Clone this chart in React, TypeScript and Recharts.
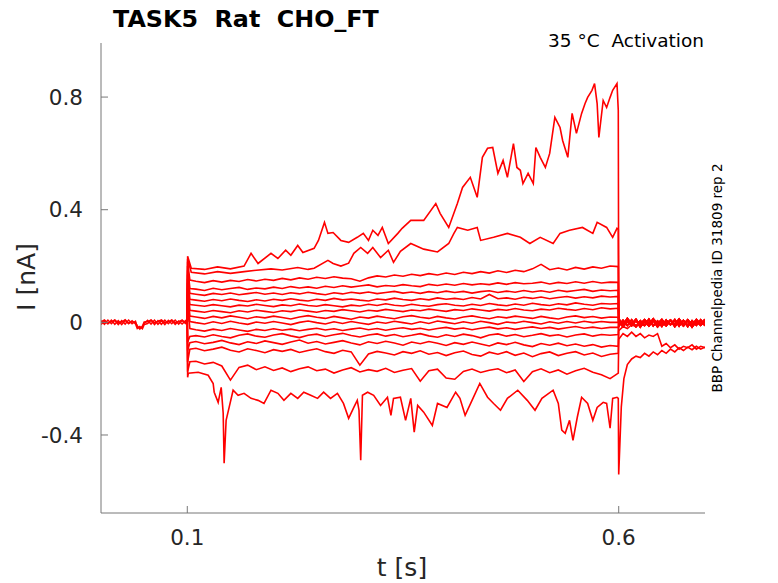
import React from "react";
import { LineChart, Line, XAxis, YAxis } from "recharts";

// time grids (s)
const tPre = [0, 0.004, 0.008, 0.012, 0.016, 0.02, 0.024, 0.028, 0.032, 0.036, 0.04, 0.042, 0.045, 0.048, 0.05, 0.054, 0.058, 0.062, 0.066, 0.07, 0.074, 0.078, 0.082, 0.086, 0.09, 0.094, 0.098, 0.1];
const tStep = [0.1, 0.1004, 0.103, 0.11, 0.12, 0.13, 0.14, 0.15, 0.16, 0.17, 0.18, 0.19, 0.2, 0.21, 0.22, 0.23, 0.24, 0.25, 0.26, 0.27, 0.28, 0.29, 0.3, 0.31, 0.32, 0.33, 0.34, 0.35, 0.36, 0.37, 0.38, 0.39, 0.4, 0.41, 0.42, 0.43, 0.44, 0.45, 0.46, 0.47, 0.48, 0.49, 0.5, 0.51, 0.52, 0.53, 0.54, 0.55, 0.56, 0.57, 0.58, 0.59, 0.5995];
const tPost = [0.6, 0.605, 0.61, 0.615, 0.62, 0.625, 0.63, 0.635, 0.64, 0.645, 0.65, 0.655, 0.66, 0.665, 0.67, 0.675, 0.68, 0.685, 0.69, 0.695, 0.7];
const tTail = [0.6, 0.6015, 0.603, 0.606, 0.61, 0.615, 0.62, 0.625, 0.63, 0.635, 0.64, 0.645, 0.65, 0.655, 0.66, 0.665, 0.67, 0.675, 0.68, 0.685, 0.69, 0.695, 0.7];

// holding current before the step (nA)
const preA = [0.006, -0.007, 0.008, -0.005, 0.007, -0.008, 0.006, -0.006, 0.008, -0.005, 0.004, -0.016, -0.021, -0.017, -0.004, 0.007, -0.006, 0.008, -0.007, 0.006, -0.008, 0.007, -0.005, 0.008, -0.006, 0.007, -0.004, 0];
const preB = [-0.008, 0.005, -0.006, 0.008, -0.007, 0.006, -0.008, 0.007, -0.005, 0.006, -0.006, -0.022, -0.015, -0.023, -0.008, -0.004, 0.007, -0.008, 0.006, -0.007, 0.008, -0.005, 0.007, -0.007, 0.005, -0.006, 0.006, 0];
const preC = [0.002, 0.009, -0.003, 0.002, 0.009, -0.002, 0.001, 0.009, -0.003, 0.002, -0.001, -0.012, -0.024, -0.013, 0.001, 0.002, 0.009, -0.002, 0.003, 0.009, -0.001, 0.002, 0.009, -0.002, 0.002, 0.008, -0.002, 0];

// after the step
const postA = [0.012, -0.008, 0.014, -0.006, 0.011, -0.01, 0.009, -0.008, 0.013, -0.005, 0.01, -0.009, 0.008, -0.007, 0.012, -0.008, 0.009, -0.01, 0.01, -0.006, 0.011];
const postB = [-0.014, 0.007, -0.011, 0.009, -0.015, 0.006, -0.01, 0.011, -0.013, 0.005, -0.014, 0.008, -0.009, 0.01, -0.013, 0.007, -0.015, 0.006, -0.01, 0.009, -0.012];
const postC = [0.005, -0.016, 0.004, -0.012, 0.007, -0.017, 0.003, -0.013, 0.006, -0.016, 0.002, -0.012, 0.007, -0.015, 0.004, -0.013, 0.006, -0.017, 0.003, -0.011, 0.004];
const tail14 = [-0.03, -0.015, -0.022, -0.008, -0.016, -0.004, -0.012, 0.002, -0.009, 0.004, -0.006, 0.003, -0.008, 0.005, -0.004, 0.006, -0.007, 0.003, -0.005, 0.004, -0.002];
const tail15 = [-0.06, -0.04, -0.05, -0.035, -0.05, -0.04, -0.055, -0.045, -0.05, -0.04, -0.085, -0.075, -0.09, -0.08, -0.095, -0.085, -0.09, -0.08, -0.095, -0.085, -0.09];
const tail16 = [-0.54, -0.42, -0.3, -0.2, -0.15, -0.13, -0.12, -0.125, -0.11, -0.12, -0.105, -0.115, -0.1, -0.11, -0.095, -0.105, -0.09, -0.1, -0.088, -0.097, -0.085, -0.095, -0.088];

// sweep 1 (largest, slowly activating)
const t1 = [0.1, 0.1004, 0.1046, 0.12, 0.135, 0.15, 0.1658, 0.1739, 0.182, 0.197, 0.205, 0.214, 0.22, 0.228, 0.234, 0.247, 0.252, 0.259, 0.263, 0.269, 0.278, 0.287, 0.297, 0.304, 0.31, 0.315, 0.321, 0.326, 0.333, 0.344, 0.349, 0.359, 0.374, 0.388, 0.393, 0.403, 0.413, 0.419, 0.428, 0.436, 0.442, 0.448, 0.454, 0.46, 0.466, 0.471, 0.478, 0.482, 0.486, 0.489, 0.495, 0.501, 0.504, 0.509, 0.515, 0.52, 0.526, 0.532, 0.535, 0.541, 0.546, 0.551, 0.557, 0.561, 0.564, 0.569, 0.572, 0.575, 0.577, 0.582, 0.586, 0.59, 0.593, 0.598, 0.5995];
const i1 = [0, 0.235, 0.192, 0.188, 0.197, 0.19, 0.2, 0.245, 0.209, 0.245, 0.227, 0.256, 0.238, 0.273, 0.248, 0.263, 0.291, 0.355, 0.316, 0.319, 0.291, 0.284, 0.302, 0.316, 0.291, 0.327, 0.309, 0.337, 0.28, 0.316, 0.334, 0.362, 0.362, 0.422, 0.387, 0.337, 0.422, 0.479, 0.515, 0.444, 0.586, 0.618, 0.621, 0.529, 0.575, 0.515, 0.635, 0.55, 0.54, 0.493, 0.529, 0.493, 0.621, 0.586, 0.55, 0.6, 0.728, 0.692, 0.646, 0.586, 0.742, 0.671, 0.742, 0.777, 0.799, 0.824, 0.848, 0.777, 0.657, 0.788, 0.763, 0.799, 0.824, 0.848, 0.753];
const post1 = [0.012, -0.004, 0.009, -0.007, 0.006, -0.003, 0.01, -0.005, 0.007, -0.008, 0.004, -0.002, 0.009, -0.006, 0.005, -0.004, 0.008, -0.007, 0.003, -0.005, 0.006];

// sweep 2
const t2 = [0.1, 0.1004, 0.1046, 0.12, 0.135, 0.15, 0.166, 0.18, 0.197, 0.21, 0.228, 0.24, 0.247, 0.263, 0.269, 0.278, 0.287, 0.293, 0.301, 0.309, 0.315, 0.324, 0.333, 0.339, 0.347, 0.359, 0.374, 0.39, 0.403, 0.409, 0.413, 0.425, 0.436, 0.44, 0.455, 0.471, 0.486, 0.497, 0.509, 0.524, 0.532, 0.543, 0.558, 0.57, 0.575, 0.586, 0.593, 0.598, 0.5995];
const i2 = [0, 0.225, 0.178, 0.172, 0.18, 0.174, 0.18, 0.185, 0.19, 0.186, 0.195, 0.188, 0.192, 0.22, 0.209, 0.2, 0.21, 0.245, 0.266, 0.245, 0.266, 0.23, 0.256, 0.213, 0.252, 0.28, 0.26, 0.25, 0.28, 0.316, 0.337, 0.327, 0.337, 0.291, 0.302, 0.316, 0.302, 0.28, 0.302, 0.28, 0.316, 0.327, 0.337, 0.316, 0.355, 0.337, 0.302, 0.334, 0.33];

// sweeps 3..15 on tStep
const i3 = [0, 0.215, 0.15, 0.146, 0.141, 0.148, 0.143, 0.149, 0.145, 0.152, 0.147, 0.153, 0.149, 0.156, 0.151, 0.158, 0.153, 0.16, 0.156, 0.162, 0.157, 0.155, 0.146, 0.158, 0.165, 0.161, 0.168, 0.164, 0.171, 0.166, 0.173, 0.168, 0.175, 0.17, 0.178, 0.173, 0.18, 0.175, 0.183, 0.177, 0.185, 0.18, 0.19, 0.206, 0.187, 0.193, 0.186, 0.195, 0.189, 0.197, 0.192, 0.2, 0.198];
const i4 = [0, 0.2, 0.12, 0.118, 0.113, 0.121, 0.116, 0.12, 0.124, 0.117, 0.122, 0.119, 0.125, 0.12, 0.127, 0.122, 0.126, 0.121, 0.128, 0.124, 0.13, 0.125, 0.129, 0.133, 0.126, 0.131, 0.128, 0.134, 0.13, 0.127, 0.135, 0.131, 0.136, 0.132, 0.138, 0.133, 0.137, 0.134, 0.14, 0.135, 0.141, 0.137, 0.139, 0.143, 0.136, 0.142, 0.138, 0.144, 0.139, 0.145, 0.14, 0.143, 0.142];
const i5 = [0, 0.185, 0.103, 0.1, 0.096, 0.103, 0.099, 0.104, 0.098, 0.102, 0.106, 0.1, 0.104, 0.099, 0.105, 0.101, 0.107, 0.102, 0.098, 0.105, 0.101, 0.107, 0.103, 0.108, 0.102, 0.106, 0.11, 0.104, 0.108, 0.103, 0.109, 0.105, 0.111, 0.106, 0.11, 0.104, 0.109, 0.112, 0.106, 0.111, 0.107, 0.113, 0.108, 0.112, 0.107, 0.114, 0.109, 0.113, 0.117, 0.11, 0.115, 0.112, 0.114];
const i6 = [0, 0.17, 0.082, 0.079, 0.075, 0.081, 0.077, 0.083, 0.078, 0.074, 0.08, 0.076, 0.082, 0.078, 0.084, 0.079, 0.076, 0.082, 0.078, 0.085, 0.08, 0.083, 0.079, 0.076, 0.083, 0.08, 0.086, 0.081, 0.078, 0.084, 0.08, 0.087, 0.082, 0.085, 0.081, 0.088, 0.083, 0.099, 0.084, 0.087, 0.082, 0.089, 0.085, 0.09, 0.084, 0.088, 0.092, 0.086, 0.091, 0.087, 0.093, 0.09, 0.092];
const i7 = [0, 0.155, 0.063, 0.061, 0.057, 0.063, 0.059, 0.055, 0.061, 0.058, 0.064, 0.06, 0.056, 0.062, 0.059, 0.065, 0.06, 0.057, 0.063, 0.059, 0.055, 0.061, 0.058, 0.064, 0.06, 0.066, 0.061, 0.058, 0.064, 0.06, 0.057, 0.063, 0.066, 0.061, 0.058, 0.064, 0.06, 0.067, 0.062, 0.059, 0.065, 0.061, 0.068, 0.063, 0.06, 0.066, 0.062, 0.069, 0.064, 0.061, 0.067, 0.065, 0.067];
const i8 = [0, 0.14, 0.043, 0.04, 0.036, 0.042, 0.038, 0.034, 0.041, 0.037, 0.043, 0.039, 0.035, 0.041, 0.038, 0.044, 0.04, 0.036, 0.042, 0.039, 0.045, 0.041, 0.037, 0.043, 0.04, 0.046, 0.042, 0.038, 0.044, 0.041, 0.047, 0.043, 0.039, 0.045, 0.042, 0.048, 0.044, 0.04, 0.046, 0.043, 0.049, 0.044, 0.041, 0.047, 0.044, 0.05, 0.046, 0.043, 0.049, 0.045, 0.052, 0.048, 0.05];
const i9 = [0, 0.12, 0.022, 0.019, 0.014, 0.021, 0.016, 0.023, 0.018, 0.013, 0.02, 0.016, 0.022, 0.017, 0.012, 0.019, 0.024, 0.018, 0.014, 0.021, 0.016, 0.011, 0.019, 0.015, 0.022, 0.017, 0.013, 0.02, 0.024, 0.018, 0.014, 0.021, 0.016, 0.012, 0.019, 0.023, 0.017, 0.013, 0.02, 0.016, 0.022, 0.018, 0.014, 0.021, 0.016, 0.012, 0.019, 0.023, 0.017, 0.021, 0.015, 0.019, 0.018];
const i10 = [0, 0.1, 0.003, -0.001, -0.006, 0.002, -0.004, 0.004, -0.002, -0.007, 0.001, -0.003, 0.003, -0.002, -0.008, 0.0, 0.005, -0.001, -0.006, 0.002, -0.004, 0.003, -0.002, -0.007, 0.001, -0.003, 0.004, -0.001, -0.006, 0.002, -0.004, 0.005, 0.0, -0.005, 0.002, -0.003, 0.004, -0.001, -0.007, 0.001, -0.002, 0.004, -0.001, -0.006, 0.002, -0.003, 0.003, -0.002, 0.004, -0.001, 0.003, 0.0, 0.0];
const i11 = [0, 0.06, -0.022, -0.026, -0.031, -0.024, -0.029, -0.022, -0.027, -0.032, -0.025, -0.029, -0.023, -0.028, -0.024, -0.03, -0.025, -0.021, -0.027, -0.023, -0.029, -0.024, -0.02, -0.026, -0.022, -0.028, -0.023, -0.019, -0.025, -0.021, -0.027, -0.022, -0.018, -0.024, -0.02, -0.026, -0.021, -0.017, -0.023, -0.019, -0.025, -0.02, -0.016, -0.022, -0.018, -0.024, -0.019, -0.015, -0.021, -0.017, -0.022, -0.018, -0.018];
const i12 = [0, -0.07, -0.05, -0.047, -0.052, -0.044, -0.05, -0.055, -0.046, -0.041, -0.049, -0.053, -0.045, -0.04, -0.048, -0.054, -0.046, -0.042, -0.05, -0.044, -0.039, -0.047, -0.052, -0.045, -0.041, -0.049, -0.043, -0.051, -0.046, -0.04, -0.048, -0.053, -0.044, -0.05, -0.042, -0.047, -0.055, -0.045, -0.041, -0.049, -0.043, -0.051, -0.046, -0.04, -0.048, -0.044, -0.052, -0.045, -0.041, -0.049, -0.043, -0.046, -0.043];
const i13 = [0, -0.1, -0.072, -0.068, -0.076, -0.071, -0.064, -0.073, -0.079, -0.069, -0.075, -0.066, -0.072, -0.078, -0.07, -0.063, -0.074, -0.068, -0.077, -0.071, -0.065, -0.073, -0.08, -0.069, -0.075, -0.067, -0.073, -0.081, -0.07, -0.076, -0.068, -0.074, -0.082, -0.072, -0.078, -0.07, -0.077, -0.084, -0.073, -0.079, -0.071, -0.08, -0.086, -0.075, -0.081, -0.074, -0.083, -0.077, -0.085, -0.079, -0.088, -0.082, -0.085];
const i14 = [0, -0.14, -0.095, -0.092, -0.101, -0.095, -0.088, -0.099, -0.105, -0.094, -0.1, -0.108, -0.097, -0.103, -0.096, -0.107, -0.1, -0.094, -0.104, -0.11, -0.099, -0.105, -0.152, -0.112, -0.103, -0.109, -0.116, -0.104, -0.11, -0.101, -0.113, -0.107, -0.118, -0.108, -0.102, -0.114, -0.12, -0.106, -0.113, -0.104, -0.117, -0.109, -0.122, -0.111, -0.105, -0.118, -0.11, -0.104, -0.116, -0.109, -0.121, -0.113, -0.11];
const i15 = [0, -0.175, -0.14, -0.138, -0.148, -0.142, -0.155, -0.205, -0.16, -0.152, -0.168, -0.158, -0.171, -0.162, -0.175, -0.165, -0.158, -0.172, -0.166, -0.18, -0.169, -0.161, -0.176, -0.168, -0.174, -0.163, -0.178, -0.17, -0.164, -0.209, -0.172, -0.166, -0.198, -0.202, -0.174, -0.166, -0.178, -0.17, -0.165, -0.179, -0.169, -0.21, -0.175, -0.165, -0.179, -0.169, -0.184, -0.172, -0.163, -0.177, -0.186, -0.2, -0.18];

// sweep 16 (most negative)
const t16 = [0.1, 0.1004, 0.1012, 0.1127, 0.1242, 0.13, 0.1312, 0.1358, 0.1393, 0.1416, 0.1427, 0.145, 0.1485, 0.1531, 0.1589, 0.1658, 0.1739, 0.182, 0.1889, 0.197, 0.205, 0.212, 0.22, 0.228, 0.235, 0.243, 0.251, 0.258, 0.266, 0.274, 0.281, 0.287, 0.293, 0.297, 0.299, 0.301, 0.303, 0.309, 0.316, 0.324, 0.332, 0.336, 0.339, 0.347, 0.353, 0.359, 0.363, 0.367, 0.374, 0.384, 0.39, 0.401, 0.411, 0.416, 0.422, 0.43, 0.439, 0.448, 0.455, 0.463, 0.471, 0.483, 0.494, 0.503, 0.511, 0.524, 0.53, 0.534, 0.538, 0.543, 0.547, 0.552, 0.557, 0.564, 0.57, 0.575, 0.582, 0.586, 0.59, 0.593, 0.598, 0.5995];
const i16 = [0, -0.195, -0.181, -0.177, -0.188, -0.217, -0.248, -0.284, -0.231, -0.323, -0.5, -0.348, -0.302, -0.241, -0.259, -0.252, -0.27, -0.277, -0.288, -0.241, -0.252, -0.277, -0.252, -0.27, -0.248, -0.259, -0.27, -0.248, -0.27, -0.252, -0.288, -0.341, -0.302, -0.277, -0.312, -0.49, -0.259, -0.248, -0.259, -0.295, -0.266, -0.33, -0.27, -0.266, -0.348, -0.27, -0.39, -0.295, -0.319, -0.366, -0.288, -0.302, -0.248, -0.27, -0.33, -0.277, -0.217, -0.266, -0.288, -0.312, -0.27, -0.241, -0.277, -0.312, -0.27, -0.241, -0.288, -0.383, -0.394, -0.348, -0.419, -0.337, -0.266, -0.288, -0.348, -0.302, -0.284, -0.288, -0.376, -0.27, -0.266, -0.27];

const yTicks = [-0.4, 0, 0.4, 0.8];
const xTicks = [0.1, 0.6];

const RED = "#ff0000";
const FONT = "'DejaVu Sans', sans-serif";

const zip = (ts: number[], vs: number[]) =>
  ts.map((t, k) => ({ t, i: vs[k] })).filter((p) => p.i !== undefined);

const sweeps = [
  [...zip(t1, i1), ...zip(tPost, post1)],
  [...zip(t2, i2), ...zip(tPost, postB)],
  [...zip(tStep, i3), ...zip(tPost, postC)],
  [...zip(tStep, i4), ...zip(tPost, postA)],
  [...zip(tStep, i5), ...zip(tPost, postB)],
  [...zip(tStep, i6), ...zip(tPost, postC)],
  [...zip(tStep, i7), ...zip(tPost, postA)],
  [...zip(tStep, i8), ...zip(tPost, postB)],
  [...zip(tStep, i9), ...zip(tPost, postC)],
  [...zip(tStep, i10), ...zip(tPost, postA)],
  [...zip(tStep, i11), ...zip(tPost, postB)],
  [...zip(tStep, i12), ...zip(tPost, postC)],
  [...zip(tStep, i13), ...zip(tPost, postA)],
  [...zip(tStep, i14), ...zip(tPost, tail14)],
  [...zip(tStep, i15), ...zip(tPost, tail15)],
  [...zip(t16, i16), ...zip(tTail, tail16)],
];
const baselines = [zip(tPre, preA), zip(tPre, preB), zip(tPre, preC)];

export default function App() {
  return (
    <div style={{ position: "relative", width: 770, height: 575 }}>
      <LineChart width={770} height={575} margin={{ top: 35, right: 73, bottom: 20, left: 33 }}>
        <XAxis
          type="number"
          dataKey="t"
          domain={[0, 0.7]}
          ticks={xTicks}
          allowDataOverflow
          height={50}
          axisLine={{ stroke: "#777", strokeWidth: 1 }}
          tickLine={{ stroke: "#777" }}
          tickSize={-7}
          tickMargin={24}
          tick={{ fill: "#262626", fontSize: 21.5, fontFamily: FONT }}
        />
        <YAxis
          type="number"
          dataKey="i"
          domain={[-0.677, 0.992]}
          ticks={yTicks}
          allowDataOverflow
          width={60}
          axisLine={{ stroke: "#777", strokeWidth: 1 }}
          tickLine={{ stroke: "#777" }}
          tickSize={-7}
          tickMargin={25}
          tick={{ fill: "#262626", fontSize: 21.5, fontFamily: FONT }}
        />
        {baselines.map((d, k) => (
          <Line key={"b" + k} data={d} dataKey="i" type="linear" dot={false} stroke={RED} strokeWidth={1.5} isAnimationActive={false} />
        ))}
        {sweeps.map((d, k) => (
          <Line key={"s" + k} data={d} dataKey="i" type="linear" dot={false} stroke={RED} strokeWidth={1.6} isAnimationActive={false} />
        ))}
      </LineChart>
      {/* overlay uses page coordinates */}
      <svg width={778} height={583} style={{ position: "absolute", left: -8, top: -8, pointerEvents: "none", overflow: "visible" }}>
        <text x={113} y={27} fontFamily={FONT} fontWeight="bold" fontSize={23.8} fill="#000" style={{ whiteSpace: "pre" }}>
          TASK5  Rat  CHO_FT
        </text>
        <text x={704} y={47} textAnchor="end" fontFamily={FONT} fontSize={18.5} fill="#000" style={{ whiteSpace: "pre" }}>
          35 °C  Activation
        </text>
        <text x={402} y={576} textAnchor="middle" fontFamily={FONT} fontSize={25} fill="#262626">
          t [s]
        </text>
        <text x={35} y={277} textAnchor="middle" fontFamily={FONT} fontSize={25} fill="#262626" transform="rotate(-90 35 277)">
          I [nA]
        </text>
        <text x={722} y={278} textAnchor="middle" fontFamily={FONT} fontSize={13.5} fill="#000" transform="rotate(-90 722 278)">
          BBP Channelpedia ID 31809 rep 2
        </text>
      </svg>
    </div>
  );
}
